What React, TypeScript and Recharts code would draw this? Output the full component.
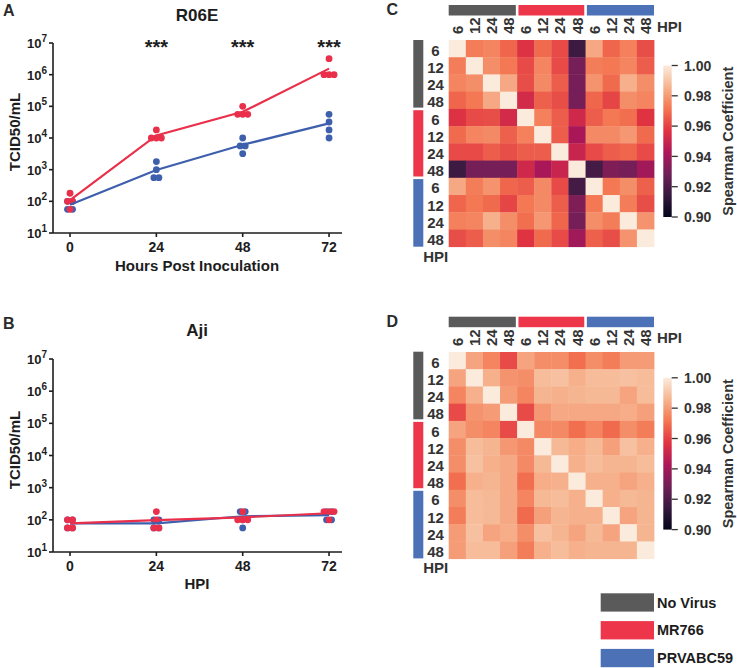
import React from 'react';
import { ScatterChart, Scatter, XAxis, YAxis, ReferenceLine, ReferenceDot } from 'recharts';

const FONT = "'Liberation Sans', Arial, Helvetica, sans-serif";
const INK = '#1d1d1d';
const LABEL_INK = '#333333';
const RED = '#EA2F4B';
const BLUE = '#3E5FAC';
const GREY_BAR = '#5A5A5A';
const RED_BAR = '#EE364B';
const BLUE_BAR = '#4C71B6';

// ---- growth curves (TCID50/mL, four replicates per time point) ----
const HOURS = [0, 24, 48, 72];
const LOG_TICKS = [1e1, 1e2, 1e3, 1e4, 1e5, 1e6, 1e7];
const R06E_STARS = ['', '***', '***', '***'];

const R06E_MR766 = [
  [100, 100, 180, 56],
  [18000, 10000, 10000, 10000],
  [100000, 56000, 56000, 56000],
  [3200000, 1000000, 1000000, 1000000],
];
const R06E_MR766_MEAN = [110, 12000, 67000, 1550000];
const R06E_PRVABC59 = [
  [100, 100, 56, 56],
  [1800, 1000, 560, 560],
  [10000, 5600, 5600, 3200],
  [56000, 32000, 18000, 10000],
];
const R06E_PRVABC59_MEAN = [78, 980, 6100, 29000];

const AJI_MR766 = [
  [100, 100, 56, 56],
  [180, 100, 56, 56],
  [180, 100, 100, 100],
  [180, 180, 180, 100],
];
const AJI_MR766_MEAN = [78, 98, 120, 160];
const AJI_PRVABC59 = [
  [100, 100, 56, 56],
  [100, 100, 56, 56],
  [180, 180, 100, 56],
  [180, 180, 100, 100],
];
const AJI_PRVABC59_MEAN = [78, 78, 129, 140];

// ---- Spearman correlation matrices (No Virus / MR766 / PRVABC59 x 6,12,24,48 HPI) ----
const HPI_LABELS = ['6', '12', '24', '48'];
const GROUP_COLORS = [GREY_BAR, RED_BAR, BLUE_BAR];
const LEGEND_NAMES = ['No Virus', 'MR766', 'PRVABC59'];
const COLORBAR_TICKS = [1.0, 0.98, 0.96, 0.94, 0.92, 0.9];

const SPEARMAN_R06E = [
  [1.000, 0.973, 0.975, 0.968, 0.956, 0.969, 0.962, 0.916, 0.983, 0.968, 0.974, 0.963],
  [0.973, 1.000, 0.977, 0.972, 0.962, 0.975, 0.962, 0.930, 0.973, 0.972, 0.975, 0.966],
  [0.975, 0.977, 1.000, 0.983, 0.963, 0.976, 0.966, 0.930, 0.978, 0.969, 0.985, 0.977],
  [0.968, 0.972, 0.983, 1.000, 0.953, 0.967, 0.963, 0.930, 0.968, 0.961, 0.977, 0.975],
  [0.956, 0.962, 0.963, 0.953, 1.000, 0.974, 0.966, 0.952, 0.966, 0.972, 0.970, 0.957],
  [0.969, 0.975, 0.976, 0.967, 0.974, 1.000, 0.966, 0.942, 0.976, 0.976, 0.979, 0.969],
  [0.962, 0.962, 0.966, 0.963, 0.966, 0.966, 1.000, 0.950, 0.962, 0.966, 0.968, 0.962],
  [0.916, 0.930, 0.930, 0.930, 0.952, 0.942, 0.950, 1.000, 0.918, 0.932, 0.930, 0.940],
  [0.983, 0.973, 0.978, 0.968, 0.966, 0.976, 0.962, 0.918, 1.000, 0.972, 0.977, 0.967],
  [0.968, 0.972, 0.969, 0.961, 0.972, 0.976, 0.966, 0.932, 0.972, 1.000, 0.973, 0.963],
  [0.974, 0.975, 0.985, 0.977, 0.970, 0.979, 0.968, 0.930, 0.977, 0.973, 1.000, 0.978],
  [0.963, 0.966, 0.977, 0.975, 0.957, 0.969, 0.962, 0.940, 0.967, 0.963, 0.978, 1.000],
];

const SPEARMAN_AJI = [
  [1.000, 0.982, 0.975, 0.962, 0.982, 0.977, 0.977, 0.970, 0.977, 0.973, 0.980, 0.980],
  [0.982, 1.000, 0.985, 0.978, 0.977, 0.988, 0.989, 0.985, 0.988, 0.988, 0.989, 0.988],
  [0.975, 0.985, 1.000, 0.980, 0.975, 0.986, 0.985, 0.986, 0.987, 0.987, 0.982, 0.988],
  [0.962, 0.978, 0.980, 1.000, 0.962, 0.979, 0.983, 0.983, 0.983, 0.983, 0.984, 0.981],
  [0.982, 0.977, 0.975, 0.962, 1.000, 0.976, 0.976, 0.970, 0.975, 0.969, 0.977, 0.973],
  [0.977, 0.988, 0.986, 0.979, 0.976, 1.000, 0.987, 0.984, 0.987, 0.981, 0.989, 0.985],
  [0.977, 0.989, 0.985, 0.983, 0.976, 0.987, 1.000, 0.985, 0.988, 0.986, 0.986, 0.988],
  [0.970, 0.985, 0.986, 0.983, 0.970, 0.984, 0.985, 1.000, 0.985, 0.985, 0.982, 0.985],
  [0.977, 0.988, 0.987, 0.983, 0.975, 0.987, 0.988, 0.985, 1.000, 0.985, 0.987, 0.986],
  [0.973, 0.988, 0.987, 0.983, 0.969, 0.981, 0.986, 0.985, 0.985, 1.000, 0.982, 0.986],
  [0.980, 0.989, 0.982, 0.984, 0.977, 0.989, 0.986, 0.982, 0.987, 0.982, 1.000, 0.986],
  [0.980, 0.988, 0.988, 0.981, 0.973, 0.985, 0.988, 0.985, 0.986, 0.986, 0.986, 1.000],
];

// seaborn "rocket" colour stops, spanning 0.90 .. 1.00
const ROCKET = ['#03051A', '#35193E', '#701F57', '#AD1759', '#E13342', '#F37651', '#F6B48F', '#FAEBDD'];
const V_MIN = 0.9;
const V_MAX = 1.0;

const hexToRgb = (h: string) => [1, 3, 5].map((i) => parseInt(h.slice(i, i + 2), 16));
const rocket = (v: number) => {
  const t = Math.min(1, Math.max(0, (v - V_MIN) / (V_MAX - V_MIN))) * (ROCKET.length - 1);
  const i = Math.min(ROCKET.length - 2, Math.floor(t));
  const f = t - i;
  const a = hexToRgb(ROCKET[i]);
  const b = hexToRgb(ROCKET[i + 1]);
  const c = a.map((x, k) => Math.round(x + (b[k] - x) * f));
  return `rgb(${c[0]},${c[1]},${c[2]})`;
};

// identical titres are set side by side around their time point
const spreadReplicates = (groups: number[][]) =>
  groups.flatMap((vals, i) =>
    vals.map((v, k) => {
      const n = vals.filter((u) => u === v).length;
      const rank = vals.slice(0, k).filter((u) => u === v).length;
      return { hour: HOURS[i] + (rank - (n - 1) / 2) * 1.4, titre: v };
    })
  );
const meanLine = (means: number[]) => HOURS.map((h, i) => ({ hour: h, titre: means[i] }));

const PowerTick = ({ x, y, payload }: any) => (
  <text x={x} y={y + 5} textAnchor="end" fill={INK} fontFamily={FONT} fontWeight={700} fontSize={13}>
    <tspan>10</tspan>
    <tspan dy={-6} fontSize={10}>
      {Math.round(Math.log10(payload.value))}
    </tspan>
  </text>
);

const dot = (color: string) => (p: any) => <circle cx={p.cx} cy={p.cy} r={3.4} fill={color} />;
const noMarker = () => <g />;

const starLabel = (text: string) => (props: any) => {
  const vb = props.viewBox || { x: 0, y: 0, width: 0 };
  return (
    <text x={vb.x + (vb.width || 0) / 2} y={vb.y + 11} textAnchor="middle" fill={INK} fontFamily={FONT} fontWeight={700} fontSize={20}>
      {text}
    </text>
  );
};

const AXIS_LINE = { stroke: INK, strokeWidth: 1.6 };

interface GrowthProps {
  top: number;
  height: number;
  red: number[][];
  blue: number[][];
  redMean: number[];
  blueMean: number[];
  stars?: string[];
}

const GrowthPanel = ({ top, height, red, blue, redMean, blueMean, stars }: GrowthProps) => (
  <div style={{ position: 'absolute', left: 0, top, width: 360, height }}>
    <ScatterChart width={360} height={height} margin={{ top: 43, right: 18, bottom: 0, left: 0 }}>
      <XAxis
        type="number"
        dataKey="hour"
        domain={[-4.73, 75.6]}
        ticks={HOURS}
        allowDataOverflow
        height={27}
        tickSize={4}
        tickMargin={5}
        axisLine={AXIS_LINE}
        tickLine={AXIS_LINE}
        tick={{ fill: INK, fontSize: 14, fontWeight: 700, fontFamily: FONT }}
      />
      <YAxis
        type="number"
        dataKey="titre"
        scale="log"
        domain={[10, 1e7]}
        ticks={LOG_TICKS}
        interval={0}
        allowDataOverflow
        width={53}
        tickSize={4}
        tickMargin={2}
        axisLine={AXIS_LINE}
        tickLine={AXIS_LINE}
        tick={<PowerTick />}
      />
      <Scatter data={spreadReplicates(blue)} shape={dot(BLUE)} isAnimationActive={false} />
      <Scatter data={spreadReplicates(red)} shape={dot(RED)} isAnimationActive={false} />
      <Scatter data={meanLine(blueMean)} line={{ stroke: BLUE, strokeWidth: 2.2 }} shape={noMarker} isAnimationActive={false} />
      <Scatter data={meanLine(redMean)} line={{ stroke: RED, strokeWidth: 2.2 }} shape={noMarker} isAnimationActive={false} />
      {(stars || [])
        .map((s, i) => ({ s, h: HOURS[i] }))
        .filter((d) => d.s)
        .map((d) => (
          <ReferenceDot key={d.h} x={d.h} y={1e7} r={0} fill="none" stroke="none" ifOverflow="visible" label={starLabel(d.s)} />
        ))}
    </ScatterChart>
  </div>
);

// ---- heatmap geometry ----
const HM_LEFT = 400;
const HM_W = 260;
const HM_H = 250;
const HM_AXIS_W = 48.7;
const HM_AXIS_H = 40;
const HM_MARGIN = { top: 0, right: 6, bottom: 3.3, left: 0 };
const N = 12;
const PLOT_X0 = HM_LEFT + HM_AXIS_W;
const PLOT_W = HM_W - HM_AXIS_W - HM_MARGIN.right;
const PLOT_H = HM_H - HM_AXIS_H - HM_MARGIN.bottom;
const CELL_W = PLOT_W / N;
const CELL_H = PLOT_H / N;
const CELL_CENTERS = Array.from({ length: N }, (_, i) => i + 0.5);

const HeatCell = (p: any) => (
  <rect x={p.cx - CELL_W / 2} y={p.cy - CELL_H / 2} width={CELL_W + 0.4} height={CELL_H + 0.4} fill={rocket(p.payload.rho)} />
);

const ColTick = ({ x, y, payload }: any) => (
  <text transform={`translate(${x + 5.5},${y}) rotate(-90)`} textAnchor="start" fill={LABEL_INK} fontFamily={FONT} fontWeight={700} fontSize={15}>
    {HPI_LABELS[Math.floor(payload.value) % 4]}
  </text>
);

const RowTick = ({ x, y, payload }: any) => (
  <text x={x} y={y + 7} textAnchor="middle" fill={LABEL_INK} fontFamily={FONT} fontWeight={700} fontSize={15}>
    {HPI_LABELS[Math.floor(payload.value) % 4]}
  </text>
);

const HeatMap = ({ matrix, top }: { matrix: number[][]; top: number }) => {
  const cells = matrix.flatMap((row, r) => row.map((rho, c) => ({ col: c + 0.5, row: r + 0.5, rho })));
  return (
    <div style={{ position: 'absolute', left: HM_LEFT, top, width: HM_W, height: HM_H }}>
      <ScatterChart width={HM_W} height={HM_H} margin={HM_MARGIN}>
        <XAxis
          type="number"
          dataKey="col"
          orientation="top"
          domain={[0, N]}
          ticks={CELL_CENTERS}
          interval={0}
          height={HM_AXIS_H}
          tickSize={0}
          tickMargin={6}
          axisLine={false}
          tickLine={false}
          tick={<ColTick />}
        />
        <YAxis
          type="number"
          dataKey="row"
          domain={[0, N]}
          reversed
          ticks={CELL_CENTERS}
          interval={0}
          width={HM_AXIS_W}
          tickSize={0}
          tickMargin={13.2}
          axisLine={false}
          tickLine={false}
          tick={<RowTick />}
        />
        <Scatter data={cells} shape={HeatCell} isAnimationActive={false} />
        {[4, 8].map((b) => (
          <ReferenceLine key={`x${b}`} x={b} stroke="#ffffff" strokeWidth={2.6} />
        ))}
        {[4, 8].map((b) => (
          <ReferenceLine key={`y${b}`} y={b} stroke="#ffffff" strokeWidth={2.6} />
        ))}
      </ScatterChart>
    </div>
  );
};

const textStyle = { fontFamily: FONT, fontWeight: 700 as const, fill: INK };

// group colour strips, HPI labels and the colour scale beside one heatmap
const HeatDecor = ({ top, barTop, barBottom, gradId }: { top: number; barTop: number; barBottom: number; gradId: string }) => {
  const plotTop = top + HM_AXIS_H;
  const blockW = CELL_W * 4;
  const blockH = CELL_H * 4;
  const barH = barBottom - barTop;
  const cbX = 663.3;
  return (
    <g>
      {GROUP_COLORS.map((c, b) => {
        const x0 = PLOT_X0 + b * blockW + (b > 0 ? 1.3 : 0);
        const x1 = PLOT_X0 + (b + 1) * blockW - (b < 2 ? 1.3 : 0);
        const y0 = plotTop + b * blockH + (b > 0 ? 1.3 : 0);
        const y1 = plotTop + (b + 1) * blockH - (b < 2 ? 1.3 : 0);
        return (
          <g key={c}>
            <rect x={x0} y={plotTop - 35} width={x1 - x0} height={10.5} fill={c} />
            <rect x={413.3} y={y0} width={10} height={y1 - y0} fill={c} />
          </g>
        );
      })}
      <text x={657} y={plotTop - 8.5} {...textStyle} fill={LABEL_INK} fontSize={15}>
        HPI
      </text>
      <text x={435.8} y={plotTop + PLOT_H + 15} textAnchor="middle" {...textStyle} fill={LABEL_INK} fontSize={15}>
        HPI
      </text>
      <rect x={cbX} y={barTop} width={8.4} height={barH} fill={`url(#${gradId})`} />
      {COLORBAR_TICKS.map((v) => {
        const y = barTop + (1 - (v - V_MIN) / (V_MAX - V_MIN)) * barH;
        return (
          <g key={v}>
            <line x1={cbX + 8.4} x2={cbX + 14.5} y1={y} y2={y} stroke={LABEL_INK} strokeWidth={1.3} />
            <text x={684} y={y + 5.2} {...textStyle} fill={LABEL_INK} fontSize={14}>
              {v.toFixed(2)}
            </text>
          </g>
        );
      })}
      <text
        transform={`translate(732.8,${(barTop + barBottom) / 2}) rotate(-90)`}
        textAnchor="middle"
        {...textStyle}
        fill={LABEL_INK}
        fontSize={14.5}
      >
        Spearman Coefficient
      </text>
    </g>
  );
};

const C_TOP = 0;
const D_TOP = 311.7;

export default function App() {
  return (
    <div style={{ position: 'absolute', left: 0, top: 0, width: 737, height: 668, background: '#ffffff', overflow: 'hidden' }}>
      <GrowthPanel
        top={0}
        height={260}
        red={R06E_MR766}
        blue={R06E_PRVABC59}
        redMean={R06E_MR766_MEAN}
        blueMean={R06E_PRVABC59_MEAN}
        stars={R06E_STARS}
      />
      <GrowthPanel
        top={316}
        height={263}
        red={AJI_MR766}
        blue={AJI_PRVABC59}
        redMean={AJI_MR766_MEAN}
        blueMean={AJI_PRVABC59_MEAN}
      />
      <HeatMap matrix={SPEARMAN_R06E} top={C_TOP} />
      <HeatMap matrix={SPEARMAN_AJI} top={D_TOP} />

      <svg width={737} height={668} style={{ position: 'absolute', left: 0, top: 0, pointerEvents: 'none' }}>
        <defs>
          {['cbC', 'cbD'].map((id) => (
            <linearGradient key={id} id={id} x1="0" y1="1" x2="0" y2="0">
              {ROCKET.map((c, i) => (
                <stop key={c} offset={i / (ROCKET.length - 1)} stopColor={c} />
              ))}
            </linearGradient>
          ))}
        </defs>

        <text x={3} y={16} {...textStyle} fill="#2b2b2b" fontSize={16}>A</text>
        <text x={3} y={329} {...textStyle} fill="#2b2b2b" fontSize={16}>B</text>
        <text x={386.5} y={15} {...textStyle} fill="#2b2b2b" fontSize={16}>C</text>
        <text x={386.5} y={327} {...textStyle} fill="#2b2b2b" fontSize={16}>D</text>

        <text x={197} y={20.5} textAnchor="middle" {...textStyle} fontSize={17}>R06E</text>
        <text x={197} y={336} textAnchor="middle" {...textStyle} fontSize={17}>Aji</text>

        <text transform="translate(20.4,132) rotate(-90)" textAnchor="middle" {...textStyle} fontSize={15}>TCID50/mL</text>
        <text transform="translate(20.4,450) rotate(-90)" textAnchor="middle" {...textStyle} fontSize={15}>TCID50/mL</text>
        <text x={197} y={270.5} textAnchor="middle" {...textStyle} fontSize={15}>Hours Post Inoculation</text>
        <text x={197} y={589} textAnchor="middle" {...textStyle} fontSize={15}>HPI</text>

        <HeatDecor top={C_TOP} barTop={65.5} barBottom={217} gradId="cbC" />
        <HeatDecor top={D_TOP} barTop={377.8} barBottom={529.6} gradId="cbD" />

        {LEGEND_NAMES.map((name, i) => (
          <g key={name}>
            <rect x={600.7} y={593.3 + i * 27.8} width={53.3} height={18.3} fill={GROUP_COLORS[i]} />
            <text x={657} y={607.6 + i * 27.8} {...textStyle} fontSize={14.5}>
              {name}
            </text>
          </g>
        ))}
      </svg>
    </div>
  );
}
